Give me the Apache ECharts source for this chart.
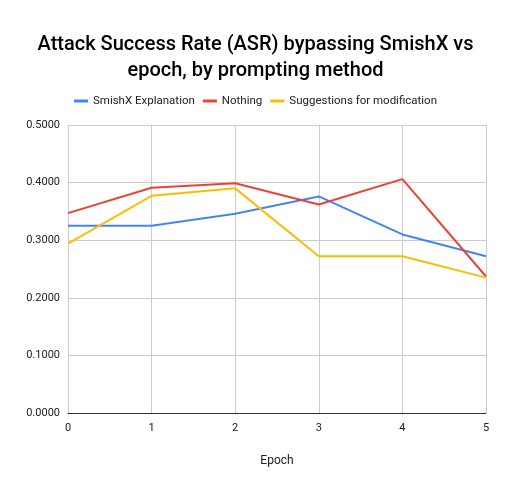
<!DOCTYPE html>
<html>
<head>
<meta charset="UTF-8">
<script src="https://cdn.jsdelivr.net/npm/echarts@6/dist/echarts.min.js"></script>
<style>html,body{margin:0;padding:0;background:#fff}</style>
</head>
<body>
<div id="main" style="width:511px;height:492px;"></div>
<script>
var epochs = ['0', '1', '2', '3', '4', '5'];
var explanation = [0.325, 0.325, 0.346, 0.376, 0.310, 0.272];
var nothing = [0.347, 0.391, 0.399, 0.362, 0.406, 0.237];
var suggestions = [0.294, 0.377, 0.390, 0.272, 0.272, 0.235];

var chart = echarts.init(document.getElementById('main'));
function line(name, data, color) {
    return { name: name, type: 'line', data: data, symbol: 'none', lineStyle: { width: 2, color: color }, itemStyle: { color: color } };
}
chart.setOption({
    animation: false,
    textStyle: { fontFamily: 'Roboto' },
    title: {
        text: 'Attack Success Rate (ASR) bypassing SmishX vs\nepoch, by prompting method',
        left: 'center', top: 27,
        textStyle: { fontSize: 20, fontWeight: 500, color: '#000', lineHeight: 26 }
    },
    legend: {
        top: 90, left: 'center', itemWidth: 14, itemHeight: 3, icon: 'rect', itemGap: 8,
        textStyle: { fontSize: 11.5, color: '#222' }
    },
    grid: { left: 68, right: 25, top: 125, bottom: 79 },
    xAxis: {
        type: 'category', data: epochs, boundaryGap: false,
        name: 'Epoch', nameLocation: 'middle', nameGap: 42,
        nameTextStyle: { fontSize: 12, color: '#222' },
        axisLine: { lineStyle: { color: '#333' } }, axisTick: { show: false },
        axisLabel: { color: '#222', fontSize: 11, margin: 10 },
        splitLine: { show: true, lineStyle: { color: '#ccc' } }
    },
    yAxis: {
        type: 'value', min: 0, max: 0.5, interval: 0.1,
        axisLabel: { color: '#222', fontSize: 11, formatter: function (v) { return v.toFixed(4); } },
        splitLine: { lineStyle: { color: '#ccc' } }
    },
    series: [
        line('SmishX Explanation', explanation, '#4285f4'),
        line('Nothing', nothing, '#ea4335'),
        line('Suggestions for modification', suggestions, '#fbbc04')
    ]
});
</script>
</body>
</html>
